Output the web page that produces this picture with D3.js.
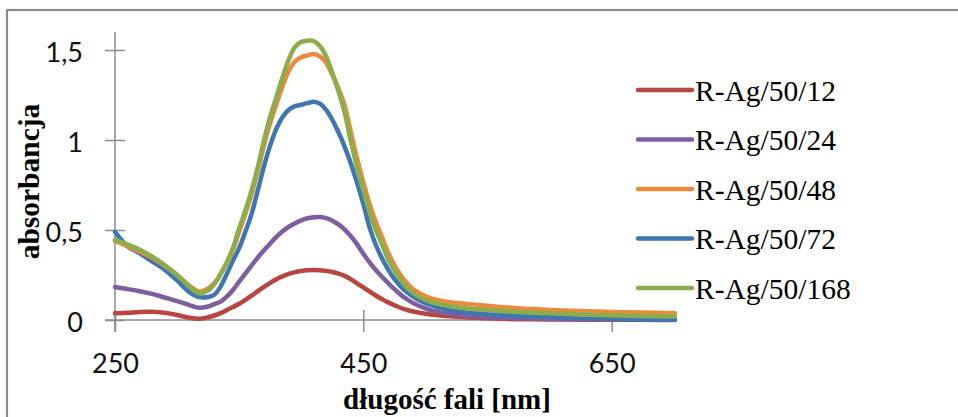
<!DOCTYPE html>
<html>
<head>
<meta charset="utf-8">
<script src="https://cdn.jsdelivr.net/npm/d3@7"></script>
<style>
body { margin: 0; background: #fff; }
</style>
</head>
<body>
<script>
// wavelengths [nm] shared by all series
var wavelengths = [250, 260, 270, 280, 290, 300, 310, 318, 325, 330, 335, 340, 345, 350, 355, 360, 365, 370, 375, 380,
  385, 390, 395, 400, 405, 410, 415, 420, 425, 430, 435, 440, 445, 450, 455, 460, 465, 470, 475, 480,
  485, 490, 500, 510, 520, 530, 545, 560, 580, 600, 625, 650, 675, 701];

var seriesNames = ["R-Ag/50/12", "R-Ag/50/24", "R-Ag/50/48", "R-Ag/50/72", "R-Ag/50/168"];

var ag12 = [0.037, 0.040, 0.045, 0.046, 0.040, 0.028, 0.012, 0.007, 0.015, 0.025, 0.038, 0.055, 0.072, 0.090, 0.112, 0.135, 0.160, 0.184, 0.206, 0.226,
  0.243, 0.256, 0.266, 0.272, 0.276, 0.278, 0.277, 0.273, 0.267, 0.258, 0.245, 0.226, 0.204, 0.181, 0.158, 0.136, 0.116, 0.098, 0.082, 0.068,
  0.056, 0.047, 0.035, 0.027, 0.021, 0.016, 0.011, 0.007, 0.004, 0.003, 0.002, 0.001, 0.001, 0.000];

var ag24 = [0.183, 0.172, 0.160, 0.145, 0.125, 0.105, 0.083, 0.068, 0.075, 0.088, 0.102, 0.130, 0.167, 0.213, 0.258, 0.303, 0.347, 0.388, 0.425, 0.462,
  0.493, 0.518, 0.538, 0.554, 0.565, 0.571, 0.572, 0.566, 0.552, 0.531, 0.502, 0.465, 0.420, 0.368, 0.320, 0.278, 0.240, 0.205, 0.171, 0.141,
  0.116, 0.095, 0.065, 0.045, 0.033, 0.025, 0.017, 0.012, 0.009, 0.006, 0.004, 0.003, 0.002, 0.002];

var ag48 = [0.440, 0.410, 0.380, 0.345, 0.300, 0.250, 0.190, 0.158, 0.175, 0.205, 0.255, 0.315, 0.390, 0.490, 0.590, 0.700, 0.830, 0.970, 1.095, 1.200,
  1.300, 1.385, 1.437, 1.460, 1.470, 1.478, 1.465, 1.430, 1.362, 1.285, 1.190, 1.045, 0.895, 0.765, 0.645, 0.545, 0.460, 0.375, 0.305, 0.250,
  0.205, 0.172, 0.132, 0.110, 0.099, 0.092, 0.082, 0.072, 0.063, 0.056, 0.050, 0.045, 0.041, 0.038];

var ag72 = [0.490, 0.410, 0.370, 0.325, 0.280, 0.220, 0.155, 0.127, 0.128, 0.140, 0.185, 0.255, 0.330, 0.400, 0.490, 0.590, 0.720, 0.855, 0.970, 1.063,
  1.128, 1.168, 1.188, 1.196, 1.205, 1.213, 1.202, 1.167, 1.112, 1.043, 0.962, 0.868, 0.760, 0.645, 0.515, 0.418, 0.343, 0.280, 0.228, 0.187,
  0.156, 0.130, 0.093, 0.070, 0.055, 0.045, 0.035, 0.028, 0.022, 0.016, 0.011, 0.007, 0.004, 0.002];

var ag168 = [0.445, 0.420, 0.390, 0.352, 0.305, 0.250, 0.185, 0.148, 0.165, 0.200, 0.255, 0.320, 0.400, 0.510, 0.610, 0.720, 0.850, 1.000, 1.130, 1.240,
  1.350, 1.448, 1.517, 1.545, 1.552, 1.550, 1.522, 1.466, 1.372, 1.270, 1.150, 0.992, 0.845, 0.720, 0.600, 0.500, 0.420, 0.337, 0.275, 0.223,
  0.181, 0.150, 0.112, 0.090, 0.077, 0.067, 0.058, 0.050, 0.043, 0.037, 0.031, 0.026, 0.022, 0.019];

var xTicks = [250, 450, 650];
var yTicks = [0, 0.5, 1, 1.5];

var allSeries = [ag12, ag24, ag48, ag72, ag168];
var colors = ["#b8453f", "#7d5fa0", "#ea8a3c", "#3e75b3", "#8bae4b"];
// drawing order: as in the picture, green on top
var drawOrder = [0, 1, 3, 2, 4];

var width = 958, height = 417;

var svg = d3.select("body").append("svg")
  .attr("width", width)
  .attr("height", height);

// chart frame
svg.append("rect")
  .attr("x", 7)
  .attr("y", 10)
  .attr("width", 1000)
  .attr("height", 600)
  .attr("fill", "none")
  .attr("stroke", "#8a8a8a")
  .attr("stroke-width", 2.2);

var x = d3.scaleLinear().domain([250, 701]).range([115, 675]);
var y = d3.scaleLinear().domain([0, 1.6]).range([320, 32]);

var axisColor = "#8c8c8c";
var tickFont = "Lato, 'Open Sans', sans-serif";

// y axis
var yAxis = svg.append("g")
  .attr("transform", "translate(" + x(250) + ",0)")
  .call(d3.axisLeft(y).tickValues(yTicks).tickSizeOuter(0)
    .tickFormat(function(d) { return String(d).replace(".", ","); }));
yAxis.select(".domain").remove();
yAxis.selectAll(".tick line").attr("x1", -10).attr("x2", 10)
  .attr("stroke", axisColor).attr("stroke-width", 1.5);
yAxis.selectAll(".tick text")
  .attr("x", -32).attr("dy", null).attr("y", 11)
  .attr("fill", "#111")
  .style("font-family", tickFont).style("font-size", "27px");

// x axis
var xAxis = svg.append("g")
  .attr("transform", "translate(0," + y(0) + ")")
  .call(d3.axisBottom(x).tickValues(xTicks).tickSizeOuter(0));
xAxis.select(".domain").remove();
xAxis.selectAll(".tick line").attr("y1", -10).attr("y2", 12)
  .attr("stroke", axisColor).attr("stroke-width", 1.5);
xAxis.selectAll(".tick text")
  .attr("dy", null).attr("y", 52.5)
  .attr("fill", "#111")
  .style("font-family", tickFont).style("font-size", "27px");

// axis lines
svg.append("line")
  .attr("x1", x(250)).attr("x2", x(250))
  .attr("y1", y(1.6)).attr("y2", y(0) + 12)
  .attr("stroke", axisColor).attr("stroke-width", 1.5);
svg.append("line")
  .attr("x1", x(250) - 10).attr("x2", x(701))
  .attr("y1", y(0)).attr("y2", y(0))
  .attr("stroke", axisColor).attr("stroke-width", 1.5);

// spectra
var line = d3.line()
  .x(function(d) { return x(d[0]); })
  .y(function(d) { return y(d[1]); })
  .curve(d3.curveCatmullRom.alpha(0.5));

drawOrder.forEach(function(i) {
  var pts = wavelengths.map(function(w, j) { return [w, allSeries[i][j]]; });
  svg.append("path")
    .datum(pts)
    .attr("d", line)
    .attr("fill", "none")
    .attr("stroke", colors[i])
    .attr("stroke-width", 4.5)
    .attr("stroke-linejoin", "round")
    .attr("stroke-linecap", "round");
});

// legend
var legend = svg.append("g");
seriesNames.forEach(function(name, i) {
  var ly = 90 + i * 49.5;
  legend.append("line")
    .attr("x1", 638).attr("x2", 692)
    .attr("y1", ly).attr("y2", ly)
    .attr("stroke", colors[i])
    .attr("stroke-width", 4.5)
    .attr("stroke-linecap", "round");
  legend.append("text")
    .attr("x", 695)
    .attr("y", ly + 10.5)
    .attr("fill", "#000")
    .style("font-family", "'Liberation Serif', 'Times New Roman', serif")
    .style("font-size", "29.5px")
    .text(name);
});

// axis titles
svg.append("text")
  .attr("transform", "translate(39,181.5) rotate(-90)")
  .attr("text-anchor", "middle")
  .style("font-family", "'Liberation Serif', 'Times New Roman', serif")
  .style("font-size", "29.5px")
  .style("font-weight", "bold")
  .text("absorbancja");

svg.append("text")
  .attr("x", 447)
  .attr("y", 409)
  .attr("text-anchor", "middle")
  .style("font-family", "'Liberation Serif', 'Times New Roman', serif")
  .style("font-size", "29px")
  .style("font-weight", "bold")
  .text("długość fali [nm]");
</script>
</body>
</html>
